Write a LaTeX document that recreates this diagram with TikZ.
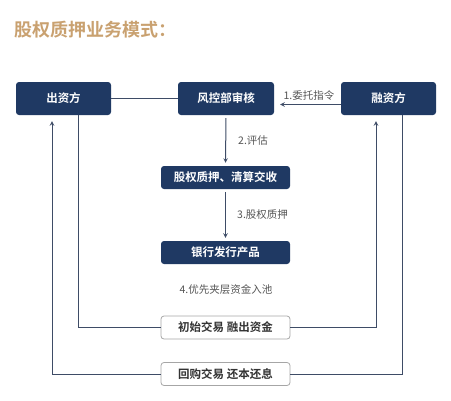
\documentclass[tikz,border=0pt]{standalone}
\usepackage{fontspec}
\setmainfont{Noto Sans CJK SC}[BoldFont={Noto Sans CJK SC Bold}]
\usepackage{tikz}
\definecolor{navy}{RGB}{31,57,99}
\definecolor{wire}{RGB}{62,76,102}
\definecolor{goldtitle}{RGB}{201,161,112}
\definecolor{labelgray}{RGB}{85,85,85}

\begin{document}
\begin{tikzpicture}
  [x=1pt,y=-1pt,>=stealth,every node/.style={rounded corners=3pt,fill=navy,text=white,font=\bfseries\fontsize{11.5}{12}\selectfont,inner sep=0pt},
   wide/.style={minimum width=129pt,minimum height=23pt},
   plainbox/.style={fill=white,draw=gray!70,text=black!80,line width=0.8pt},
   steplabel/.style={fill=none,text=labelgray,font=\fontsize{10.5}{11}\selectfont},
   link/.style={draw=wire,line width=1pt}]

  \useasboundingbox (0,0) rectangle (451,400);

  \node[fill=none,text=goldtitle,anchor=west,font=\bfseries\fontsize{18}{19}\selectfont] (title) at (14,30) {股权质押业务模式：};

  \node[minimum width=95pt,minimum height=33pt] (chu) at (63.5,98.5) {出资方};
  \node[minimum width=96pt,minimum height=33pt] (feng) at (226,98.5) {风控部审核};
  \node[minimum width=95pt,minimum height=33pt] (rong) at (388.5,98.5) {融资方};
  \node[wide] (zhiya) at (225.5,177.5) {股权质押、清算交收};
  \node[wide] (bank) at (225.5,252.5) {银行发行产品};
  \node[wide,plainbox] (init) at (225.5,327.5) {初始交易 融出资金};
  \node[wide,plainbox] (buy) at (225.5,374) {回购交易 还本还息};

  \node[steplabel] (s1) at (309,96) {1.委托指令};
  \node[steplabel,anchor=west] (s2) at (238,141) {2.评估};
  \node[steplabel,anchor=west] (s3) at (237,215) {3.股权质押};
  \node[steplabel] (s4) at (226,290) {4.优先夹层资金入池};

  \draw[link] (chu.east) -- (feng.west);
  \draw[link,->,shorten >=6pt] ([yshift=-6pt]rong.west) -- ([yshift=-6pt]feng.east);
  \draw[link,->,shorten <=3pt,shorten >=3pt] (feng.south) -- (zhiya.north);
  \draw[link,->,shorten <=3pt,shorten >=3pt] (zhiya.south) -- (bank.north);

  \draw[link] ([xshift=14.5pt]chu.south) |- (init.west);
  \draw[link,->,shorten >=6pt] (init.east) -| ([xshift=-12.5pt]rong.south);
  \draw[link] ([xshift=13.5pt]rong.south) |- (buy.east);
  \draw[link,->,shorten >=6pt] (buy.west) -| ([xshift=-11.5pt]chu.south);
\end{tikzpicture}
\end{document}
